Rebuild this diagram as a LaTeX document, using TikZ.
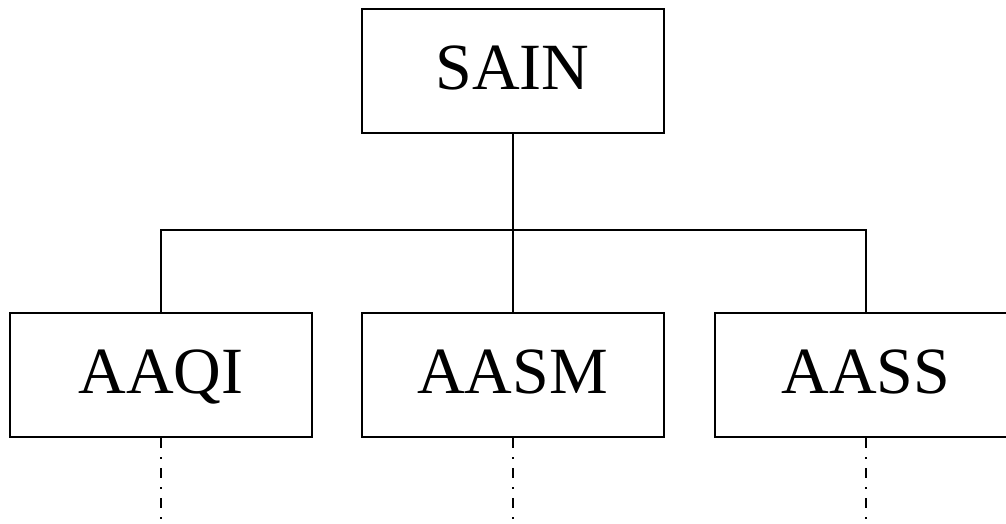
\documentclass[tikz,border=0pt]{standalone}
\usepackage{fontspec}
\setmainfont{Liberation Serif}
\tikzset{
  unitbox/.style = {
    draw, line width=1pt, inner sep=0pt,
    minimum width=151pt, minimum height=62pt,
    text height=26pt, text depth=7.5pt,
    font=\fontsize{33}{40}\selectfont
  },
  dashdotline/.style = {
    line width=1pt,
    dash pattern=on 5pt off 4.5pt on 1pt off 4.5pt
  }
}

\begin{document}
\begin{tikzpicture}[x=0.5pt,y=-0.5pt,line width=1pt]
  \useasboundingbox (0,0) rectangle (1006,524);
  \node[unitbox] (sain) at (512.5,71.5) {SAIN};
  \node[unitbox] (aaqi) at (161,375) {AAQI};
  \node[unitbox] (aasm) at (512.5,375) {AASM};
  \node[unitbox] (aass) at (866,375) {AASS};
  \coordinate (bus) at (512.5,230);
  \draw
    (sain.south) -- (bus)
    (aaqi.north) |- (bus) -| (aass.north)
    (bus) -- (aasm.north);
  % lower levels left open
  \foreach \n in {aaqi,aasm,aass}
    \draw[dashdotline] (\n.south) -- (\n.south |- 0,524);
\end{tikzpicture}
\end{document}
